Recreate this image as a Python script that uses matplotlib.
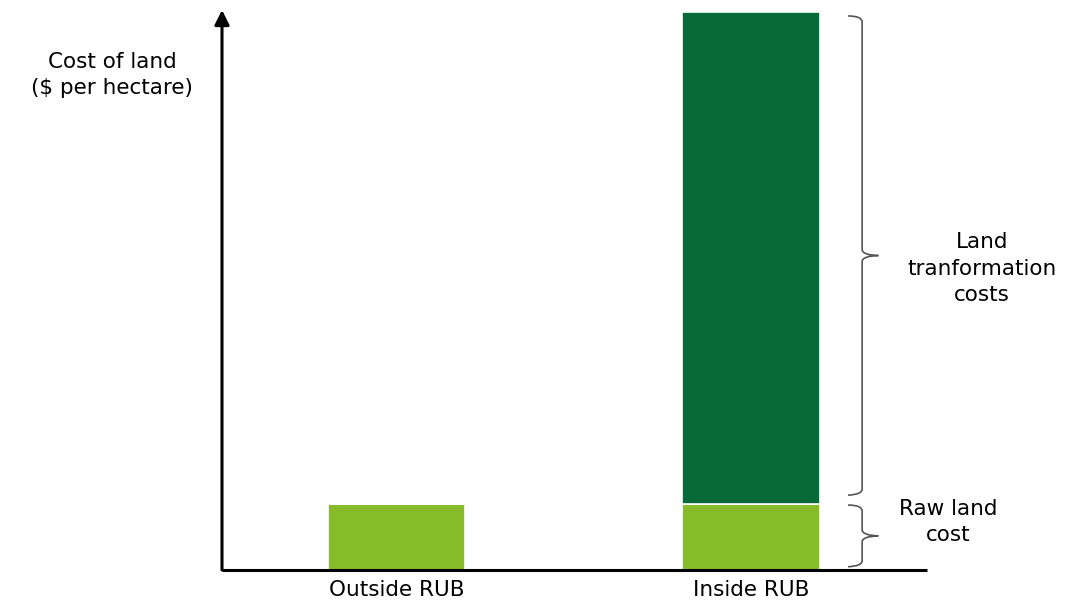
import matplotlib
matplotlib.use("Agg")
import matplotlib.pyplot as plt
from matplotlib.path import Path
from matplotlib.patches import PathPatch
import matplotlib.transforms as mtransforms

# data
categories = ["Outside RUB", "Inside RUB"]
raw_land = [1.0, 1.0]
transformation = [0.0, 7.42]

light_green = "#86BC29"
dark_green = "#066A39"
fs = 15.5

fig = plt.figure(figsize=(10.81, 6.03), dpi=100)
# axes box in pixels: x 222..927, y 10..570
ax = fig.add_axes([222 / 1081, 33 / 603, 705 / 1081, 560 / 603])

x = list(range(len(categories)))
ax.bar(x, raw_land, width=0.387, color=light_green, edgecolor="white", linewidth=1.2)
ax.bar(x, transformation, bottom=raw_land, width=0.387, color=dark_green,
       edgecolor="white", linewidth=1.2)

ax.set_xlim(-0.494, 1.497)
ax.set_ylim(0, 8.45)

for s in ax.spines.values():
    s.set_visible(False)
ax.set_yticks([])
ax.set_xticks(x, categories, fontsize=fs)
ax.tick_params(axis="x", length=0, pad=7)

# axes lines
ax.plot([0, 1], [0, 0], transform=ax.transAxes, color="black", lw=2.2,
        clip_on=False, solid_capstyle="butt")
ax.annotate("", xy=(0, 1.0), xytext=(0, 0), xycoords="axes fraction",
            arrowprops=dict(arrowstyle="-|>", lw=2.2, color="black",
                            mutation_scale=22, shrinkA=0, shrinkB=0))


def brace(ax, y0, y1, c=0.09):
    tr = mtransforms.blended_transform_factory(ax.transAxes, ax.transData)
    x0, xm, xt = 0.888, 0.908, 0.931
    ym = (y0 + y1) / 2
    verts = [
        (x0, y1), (xm, y1), (xm, y1 - c),
        (xm, ym + c),
        (xm, ym), (xt, ym), (xt, ym),
        (xt, ym), (xm, ym), (xm, ym - c),
        (xm, y0 + c),
        (xm, y0), (x0, y0), (x0, y0),
    ]
    codes = [Path.MOVETO, Path.CURVE3, Path.CURVE3,
             Path.LINETO,
             Path.CURVE4, Path.CURVE4, Path.CURVE4,
             Path.CURVE4, Path.CURVE4, Path.CURVE4,
             Path.LINETO,
             Path.CURVE4, Path.CURVE4, Path.CURVE4]
    ax.add_patch(PathPatch(Path(verts, codes), fill=False, edgecolor="#555555",
                           lw=1.2, transform=tr, clip_on=False))
    return ym


total = raw_land[1] + transformation[1]
ym_big = brace(ax, raw_land[1] + 0.13, total - 0.06)
ym_small = brace(ax, 0.05, raw_land[1] - 0.02)

tr = mtransforms.blended_transform_factory(ax.transAxes, ax.transData)
ax.text(1.078, ym_big - 0.2, "Land\ntranformation\ncosts", transform=tr,
        ha="center", va="center", fontsize=fs, linespacing=1.4)
ax.text(1.03, raw_land[1] * 0.72, "Raw land\ncost", transform=tr,
        ha="center", va="center", fontsize=fs, linespacing=1.4)

fig.text(112 / 1081, 1 - 75 / 603, "Cost of land\n($ per hectare)",
         ha="center", va="center", fontsize=fs, linespacing=1.4)

fig.savefig("out.png", dpi=100)
